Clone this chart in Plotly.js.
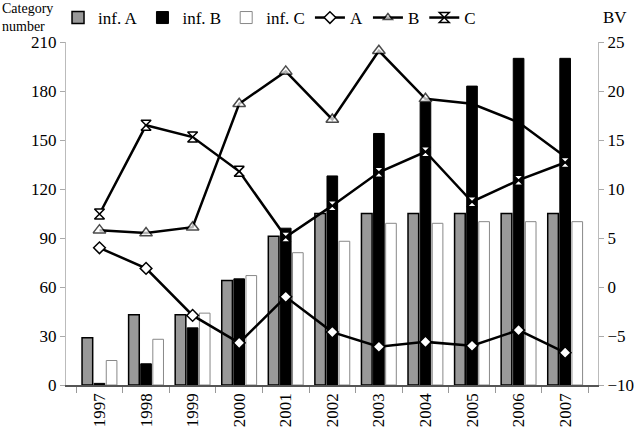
<!DOCTYPE html>
<html>
<head>
<meta charset="utf-8">
<script src="https://cdn.plot.ly/plotly-3.0.1.min.js"></script>
<style>html,body{margin:0;padding:0;background:#fff;}#chart{width:634px;height:440px;}</style>
</head>
<body>
<div id="chart"></div>
<script>
const years = ['1997','1998','1999','2000','2001','2002','2003','2004','2005','2006','2007'];
const infA = [29, 43, 43, 64, 91, 105, 105, 105, 105, 105, 105];
const infB = [1, 13, 35, 65, 96, 128, 154, 173, 183, 200, 200];
const infC = [15, 28, 44, 67, 81, 88, 99, 99, 100, 100, 100];
const bvA = [4.0, 1.9, -2.9, -5.7, -1.0, -4.6, -6.1, -5.6, -6.0, -4.4, -6.7];
const bvB = [5.8, 5.5, 6.1, 18.7, 22.0, 17.1, 24.1, 19.2, 18.7, 16.8, 13.3];
const bvC = [7.45, 16.5, 15.3, 11.8, 5.1, 8.3, 11.7, 13.8, 8.7, 10.9, 12.7];

const fontFam = 'Liberation Serif, DejaVu Serif, serif';
const traces = [
  {type:'bar', name:'inf. A', x:years, y:infA, marker:{color:'#999999', line:{color:'#000', width:1.5}}},
  {type:'bar', name:'inf. B', x:years, y:infB, marker:{color:'#000000', line:{color:'#000', width:1}}},
  {type:'bar', name:'inf. C', x:years, y:infC, marker:{color:'#ffffff', line:{color:'#888', width:1}}},
  {type:'scatter', mode:'lines+markers', name:'A', x:years, y:bvA, yaxis:'y2',
   line:{color:'#000', width:2.5}, marker:{symbol:'diamond', size:9, color:'#fff', line:{color:'#000', width:1.5}}},
  {type:'scatter', mode:'lines+markers', name:'B', x:years, y:bvB, yaxis:'y2',
   line:{color:'#000', width:2.5}, marker:{symbol:'triangle-up', size:[11,11,11,11,11,11,11,11,0,0,0], color:'#fff', line:{color:'#000', width:1.5}}},
  {type:'scatter', mode:'lines+markers', name:'C', x:years, y:bvC, yaxis:'y2',
   line:{color:'#000', width:2.5}, marker:{symbol:'hourglass', size:10, color:'#fff', line:{color:'#000', width:1.5}}}
];
const layout = {
  width:634, height:440,
  margin:{l:66, r:36, t:42, b:55, autoexpand:false},
  paper_bgcolor:'#fff', plot_bgcolor:'#fff',
  font:{family:fontFam, size:17, color:'#000'},
  barmode:'group', bargap:0.22, bargroupgap:0.12,
  showlegend:true,
  legend:{orientation:'h', x:-0.015, xanchor:'left', y:1.07, yanchor:'middle', font:{size:17}, itemgap:8, traceorder:'normal', bgcolor:'rgba(0,0,0,0)'},
  xaxis:{type:'category', tickson:'boundaries', ticks:'outside', ticklen:6, tickcolor:'#999', tickangle:-90,
    showline:true, linecolor:'#555', linewidth:1.5, showgrid:false, zeroline:false, tickfont:{size:17}},
  yaxis:{range:[0,210], tickvals:[0,30,60,90,120,150,180,210], ticks:'outside', ticklen:5, tickcolor:'#aaa',
    showline:true, linecolor:'#bbb', linewidth:1, showgrid:false, zeroline:false, tickfont:{size:17}},
  yaxis2:{range:[-10,25], tickvals:[-10,-5,0,5,10,15,20,25], overlaying:'y', side:'right', ticks:'outside', ticklen:5, tickcolor:'#aaa',
    showline:true, linecolor:'#bbb', linewidth:1, showgrid:false, zeroline:false, tickfont:{size:17}},
  annotations:[
    {text:'Category<br>number', xref:'paper', yref:'paper', x:-0.123, y:1.1224, xanchor:'left', yanchor:'top', showarrow:false, align:'left', font:{size:14}, borderpad:0},
    {text:'BV', xref:'paper', yref:'paper', x:1.005, y:1.07, xanchor:'left', yanchor:'middle', showarrow:false, font:{size:17}}
  ]
};
Plotly.newPlot('chart', traces, layout, {displayModeBar:false, staticPlot:true});
</script>
</body>
</html>
